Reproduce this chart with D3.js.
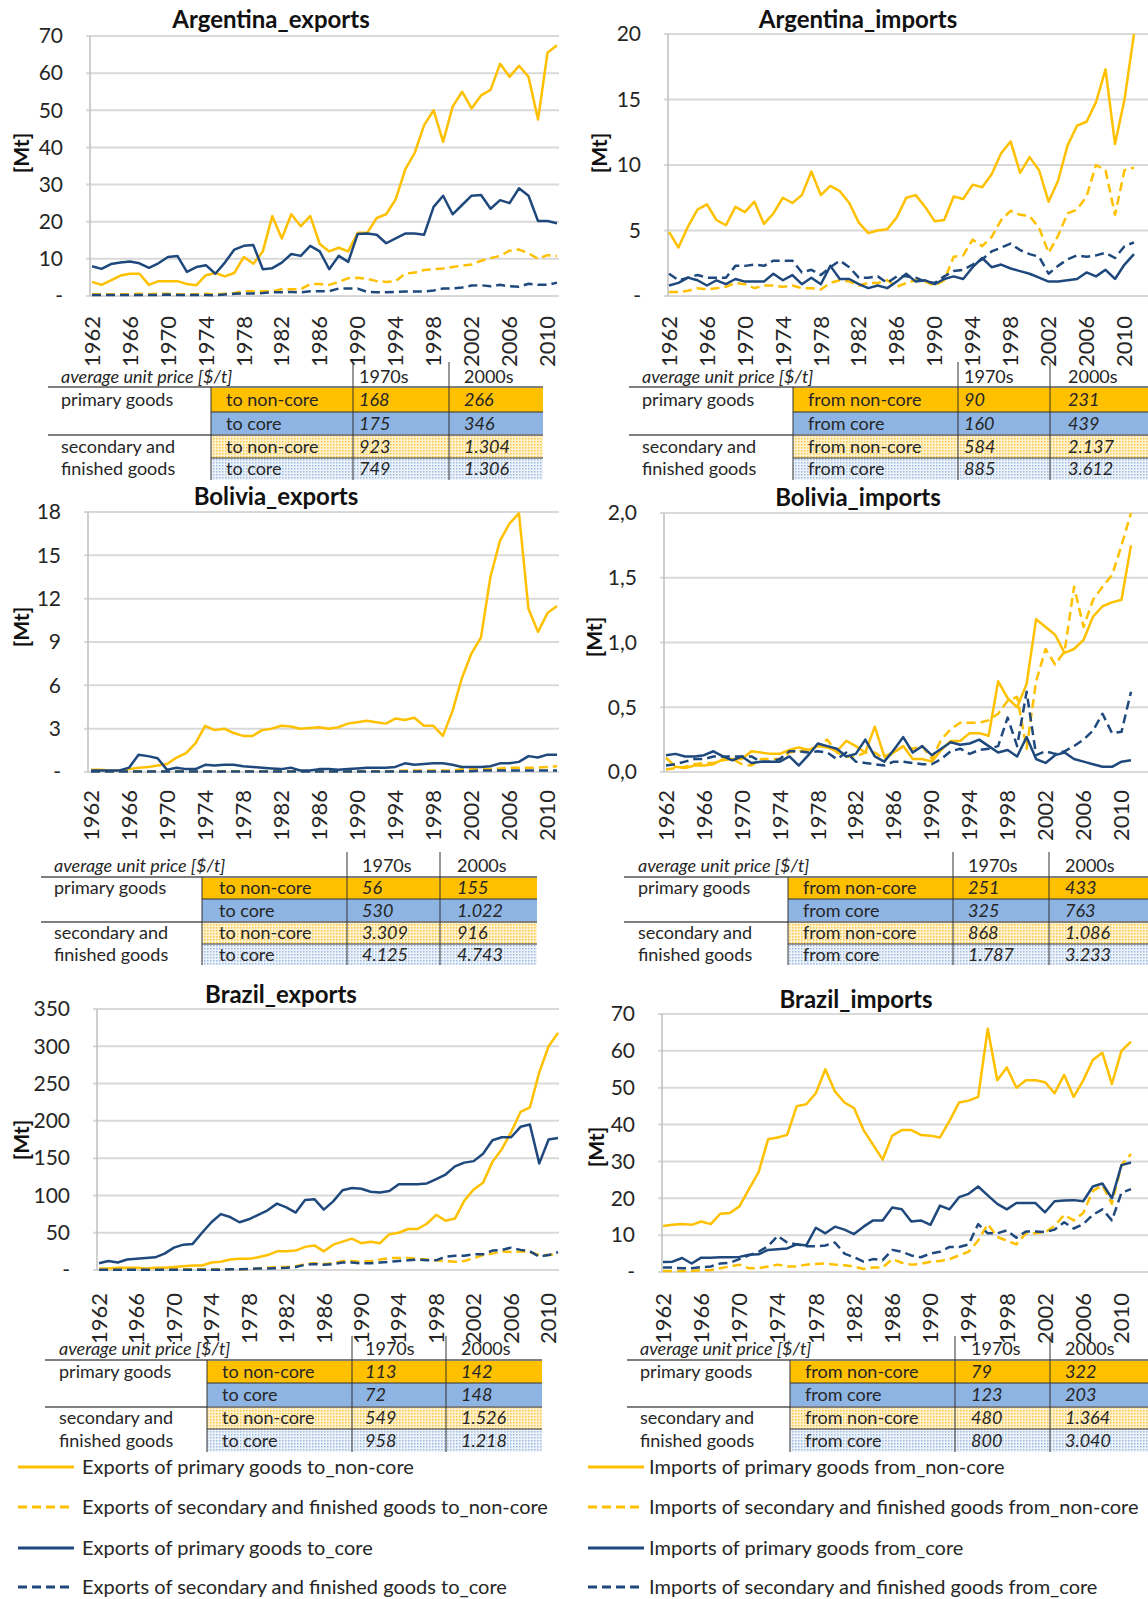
<!DOCTYPE html>
<html>
<head>
<meta charset="utf-8">
<script src="https://cdn.jsdelivr.net/npm/d3@7"></script>
<style>
    body { margin: 0; background: #fff; }
    svg { display: block; font-family: Lato, "Liberation Sans", sans-serif; }
</style>
</head>
<body>
<svg id="svg" width="1148" height="1599"></svg>
<script>

var years = [1962, 1963, 1964, 1965, 1966, 1967, 1968, 1969, 1970, 1971,
    1972, 1973, 1974, 1975, 1976, 1977, 1978, 1979, 1980, 1981,
    1982, 1983, 1984, 1985, 1986, 1987, 1988, 1989, 1990, 1991,
    1992, 1993, 1994, 1995, 1996, 1997, 1998, 1999, 2000, 2001,
    2002, 2003, 2004, 2005, 2006, 2007, 2008, 2009, 2010, 2011];

// Argentina exports [Mt]
var argExpPrimNonCore = [3.8, 3.0, 4.2, 5.5, 6.0, 6.0, 3.0, 4.0, 4.0, 4.0, 3.2, 2.9, 5.6, 6.2, 5.3, 6.2, 10.5, 8.7, 12.0, 21.5, 15.5, 22.0, 18.8, 21.5, 14.0, 12.0, 13.0, 12.0, 17.0, 17.0, 21.0, 22.0, 26.0, 34.0, 38.5, 46.0, 50.0, 41.5, 51.0, 55.0, 50.5, 54.0, 55.5, 62.5, 59.0, 62.0, 59.0, 47.5, 65.5, 67.5];
var argExpSecNonCore = [0.5, 0.5, 0.5, 0.5, 0.5, 0.6, 0.5, 0.6, 0.6, 0.5, 0.5, 0.5, 0.6, 0.4, 0.6, 0.8, 1.3, 1.3, 1.3, 1.3, 1.8, 1.8, 1.8, 3.2, 3.2, 3.0, 3.8, 4.8, 4.9, 4.6, 4.0, 3.8, 4.0, 6.0, 6.3, 7.0, 7.2, 7.4, 7.8, 8.2, 8.5, 9.5, 10.2, 10.8, 12.2, 12.5, 11.5, 10.0, 11.0, 10.8];
var argExpPrimCore = [8.0, 7.3, 8.6, 9.0, 9.3, 8.8, 7.6, 8.8, 10.5, 10.8, 6.5, 7.8, 8.3, 6.0, 9.0, 12.5, 13.5, 13.7, 7.2, 7.5, 9.0, 11.3, 10.8, 13.5, 12.0, 7.2, 10.8, 9.2, 16.7, 16.8, 16.5, 14.2, 15.5, 16.8, 16.8, 16.5, 24.0, 27.0, 22.0, 24.5, 27.0, 27.2, 23.5, 25.8, 25.0, 29.0, 27.0, 20.2, 20.2, 19.6];
var argExpSecCore = [0.3, 0.3, 0.3, 0.3, 0.3, 0.3, 0.3, 0.3, 0.4, 0.3, 0.3, 0.3, 0.3, 0.2, 0.4, 0.6, 0.7, 0.7, 0.8, 1.0, 1.0, 1.1, 1.0, 1.3, 1.3, 1.3, 2.0, 2.0, 2.0, 1.1, 1.0, 1.0, 1.1, 1.2, 1.2, 1.2, 1.5, 2.0, 2.0, 2.3, 2.8, 2.9, 2.6, 3.0, 2.6, 2.5, 3.3, 3.0, 3.0, 3.6];

// Argentina imports [Mt]
var argImpPrimNonCore = [4.9, 3.7, 5.3, 6.6, 7.0, 5.8, 5.4, 6.8, 6.4, 7.2, 5.5, 6.3, 7.5, 7.1, 7.7, 9.5, 7.7, 8.4, 8.0, 7.1, 5.6, 4.8, 5.0, 5.1, 6.0, 7.5, 7.7, 6.8, 5.7, 5.8, 7.6, 7.4, 8.5, 8.3, 9.3, 10.9, 11.8, 9.4, 10.6, 9.6, 7.2, 8.8, 11.5, 13.0, 13.3, 14.8, 17.3, 11.6, 15.0, 20.0];
var argImpSecNonCore = [0.3, 0.3, 0.4, 0.6, 0.5, 0.6, 0.7, 1.0, 0.9, 0.6, 0.8, 0.8, 0.7, 0.8, 0.6, 0.6, 0.5, 1.0, 1.2, 1.1, 0.8, 1.0, 1.0, 1.2, 0.7, 1.0, 1.2, 1.1, 0.8, 1.2, 3.0, 3.1, 4.3, 3.8, 4.5, 5.8, 6.5, 6.2, 6.1, 5.2, 3.3, 4.6, 6.3, 6.6, 7.6, 10.0, 9.6, 6.2, 9.6, 9.8];
var argImpPrimCore = [0.8, 1.0, 1.4, 1.2, 0.8, 1.2, 0.9, 1.3, 1.1, 1.1, 1.1, 1.7, 1.2, 1.6, 0.9, 1.4, 0.9, 2.3, 1.3, 1.3, 0.9, 0.6, 0.8, 0.6, 1.1, 1.7, 1.1, 1.2, 0.9, 1.3, 1.5, 1.3, 2.2, 2.9, 2.2, 2.4, 2.1, 1.9, 1.7, 1.4, 1.1, 1.1, 1.2, 1.3, 1.8, 1.5, 2.0, 1.3, 2.4, 3.2];
var argImpSecCore = [1.7, 1.2, 1.4, 1.6, 1.4, 1.4, 1.4, 2.3, 2.3, 2.4, 2.3, 2.7, 2.7, 2.7, 1.8, 2.0, 1.6, 2.2, 2.7, 2.2, 1.4, 1.4, 1.5, 1.0, 1.5, 1.5, 1.4, 1.1, 1.0, 1.5, 1.9, 2.0, 2.4, 2.8, 3.4, 3.7, 4.0, 3.5, 3.2, 3.0, 1.7, 2.3, 2.8, 3.1, 3.0, 3.1, 3.3, 2.9, 3.8, 4.1];

// Bolivia exports [Mt]
var bolExpPrimNonCore = [0.15, 0.15, 0.1, 0.1, 0.2, 0.3, 0.35, 0.45, 0.55, 1.0, 1.3, 2.0, 3.2, 2.9, 3.0, 2.7, 2.5, 2.5, 2.9, 3.0, 3.2, 3.15, 3.0, 3.05, 3.1, 3.0, 3.1, 3.35, 3.45, 3.55, 3.45, 3.35, 3.7, 3.6, 3.75, 3.2, 3.2, 2.5, 4.2, 6.5, 8.2, 9.3, 13.5, 16.0, 17.2, 17.9, 11.3, 9.7, 11.0, 11.5];
var bolExpSecNonCore = [0.05, 0.05, 0.05, 0.05, 0.05, 0.05, 0.05, 0.05, 0.05, 0.05, 0.05, 0.05, 0.05, 0.05, 0.05, 0.05, 0.05, 0.05, 0.05, 0.05, 0.05, 0.05, 0.05, 0.05, 0.05, 0.05, 0.05, 0.05, 0.05, 0.05, 0.05, 0.05, 0.05, 0.1, 0.1, 0.1, 0.1, 0.1, 0.1, 0.2, 0.2, 0.2, 0.2, 0.25, 0.3, 0.3, 0.3, 0.3, 0.35, 0.4];
var bolExpPrimCore = [0.1, 0.1, 0.1, 0.1, 0.3, 1.2, 1.1, 0.95, 0.15, 0.3, 0.2, 0.2, 0.5, 0.45, 0.5, 0.5, 0.4, 0.35, 0.3, 0.25, 0.2, 0.3, 0.1, 0.1, 0.2, 0.2, 0.15, 0.2, 0.25, 0.3, 0.3, 0.3, 0.35, 0.6, 0.5, 0.55, 0.6, 0.6, 0.5, 0.35, 0.35, 0.35, 0.4, 0.6, 0.6, 0.7, 1.1, 1.0, 1.2, 1.2];
var bolExpSecCore = [0.03, 0.03, 0.03, 0.03, 0.03, 0.03, 0.03, 0.03, 0.03, 0.03, 0.03, 0.03, 0.03, 0.03, 0.03, 0.03, 0.03, 0.03, 0.03, 0.03, 0.03, 0.03, 0.03, 0.03, 0.03, 0.03, 0.03, 0.03, 0.03, 0.03, 0.03, 0.03, 0.03, 0.03, 0.03, 0.03, 0.03, 0.03, 0.03, 0.05, 0.05, 0.1, 0.1, 0.1, 0.1, 0.1, 0.1, 0.1, 0.1, 0.1];

// Bolivia imports [Mt]
var bolImpPrimNonCore = [0.11, 0.04, 0.03, 0.05, 0.05, 0.06, 0.1, 0.1, 0.1, 0.16, 0.15, 0.14, 0.14, 0.17, 0.19, 0.17, 0.2, 0.19, 0.16, 0.24, 0.2, 0.15, 0.35, 0.12, 0.15, 0.2, 0.1, 0.1, 0.08, 0.17, 0.24, 0.24, 0.3, 0.3, 0.28, 0.7, 0.57, 0.5, 0.68, 1.18, 1.12, 1.06, 0.92, 0.95, 1.02, 1.2, 1.28, 1.31, 1.33, 1.75];
var bolImpSecNonCore = [0.02, 0.03, 0.04, 0.06, 0.07, 0.07, 0.09, 0.1, 0.06, 0.05, 0.1, 0.1, 0.1, 0.15, 0.16, 0.17, 0.2, 0.25, 0.15, 0.12, 0.12, 0.15, 0.15, 0.1, 0.15, 0.2, 0.18, 0.2, 0.1, 0.25, 0.33, 0.38, 0.38, 0.38, 0.4, 0.45, 0.55, 0.58, 0.18, 0.7, 0.95, 0.83, 0.93, 1.43, 1.12, 1.33, 1.43, 1.52, 1.75, 2.0];
var bolImpPrimCore = [0.13, 0.14, 0.12, 0.12, 0.13, 0.16, 0.12, 0.09, 0.12, 0.07, 0.08, 0.08, 0.08, 0.12, 0.05, 0.13, 0.22, 0.2, 0.18, 0.12, 0.14, 0.25, 0.12, 0.08, 0.17, 0.27, 0.15, 0.2, 0.13, 0.18, 0.23, 0.21, 0.22, 0.25, 0.2, 0.15, 0.17, 0.12, 0.27, 0.1, 0.07, 0.13, 0.15, 0.1, 0.08, 0.06, 0.04, 0.04, 0.08, 0.09];
var bolImpSecCore = [0.05, 0.06, 0.08, 0.1, 0.1, 0.12, 0.12, 0.12, 0.12, 0.12, 0.08, 0.08, 0.1, 0.16, 0.16, 0.15, 0.16, 0.15, 0.1, 0.15, 0.08, 0.07, 0.06, 0.05, 0.08, 0.08, 0.07, 0.06, 0.06, 0.1, 0.16, 0.18, 0.14, 0.17, 0.18, 0.2, 0.42, 0.2, 0.62, 0.13, 0.16, 0.14, 0.16, 0.2, 0.25, 0.32, 0.45, 0.3, 0.31, 0.62];

// Brazil exports [Mt]
var braExpPrimNonCore = [2, 2, 3, 3, 3, 2, 3, 3, 4, 5, 6, 6, 10, 11, 14, 15, 15, 17, 20, 25, 25, 26, 31, 33, 25, 34, 38, 42, 36, 38, 36, 48, 50, 55, 55, 62, 74, 66, 69, 93, 108, 117, 145, 162, 185, 212, 218, 265, 300, 318];
var braExpSecNonCore = [1, 1, 1, 1, 1, 1, 1, 1, 1, 1, 1, 1, 1, 1, 1, 1, 1, 2, 3, 4, 4, 5, 8, 9, 8, 9, 12, 12, 11, 12, 14, 16, 16, 16, 15, 14, 13, 12, 11, 12, 16, 20, 22, 25, 24, 25, 24, 20, 20, 22];
var braExpPrimCore = [9, 12, 10, 14, 15, 16, 17, 22, 30, 34, 35, 50, 64, 75, 71, 64, 68, 74, 80, 89, 84, 77, 94, 95, 81, 92, 107, 110, 109, 105, 104, 106, 115, 115, 115, 116, 122, 128, 139, 144, 146, 156, 174, 178, 178, 192, 195, 143, 175, 177];
var braExpSecCore = [0.5, 0.5, 0.5, 0.5, 0.5, 0.5, 0.5, 0.5, 0.5, 0.5, 0.5, 0.5, 0.5, 0.5, 1, 1, 1.5, 2, 2, 2.5, 3, 4, 7, 8, 7, 8, 10, 10, 9, 9, 10, 11, 12, 13, 14, 13, 13, 18, 19, 19, 21, 21, 26, 27, 30, 27, 25, 18, 20, 24];

// Brazil imports [Mt]
var braImpPrimNonCore = [12.5, 12.8, 13.0, 12.8, 13.7, 13.0, 15.8, 16.0, 17.8, 22.5, 27, 36, 36.5, 37.2, 45, 45.5, 48.5, 55, 49, 46, 44.5, 38.5, 34.5, 30.5, 37, 38.5, 38.5, 37.2, 37, 36.5, 41, 46, 46.5, 47.5, 66, 52, 55.5, 50, 52, 52, 51.5, 48.5, 53.5, 47.5, 52, 57.5, 59.5, 51, 60, 62.5];
var braImpSecNonCore = [0.3, 0.3, 0.3, 0.3, 0.5, 0.5, 1.0, 1.5, 2.0, 1.0, 1.0, 1.5, 2.0, 1.5, 1.5, 2.0, 2.2, 2.3, 2.0, 1.8, 1.5, 0.8, 1.2, 1.2, 3.5, 2.5, 2.0, 2.2, 2.8, 3.0, 3.5, 4.5, 5.5, 8.5, 13.0, 9.5, 8.5, 7.5, 10.5, 10.5, 10.8, 12.5, 15.5, 14.0, 16.0, 22.0, 23.5, 18.5, 29.0, 32.0];
var braImpPrimCore = [2.7, 2.8, 3.8, 2.3, 3.9, 3.9, 4.0, 4.0, 4.1, 4.7, 4.8, 6.0, 6.2, 6.4, 7.5, 7.2, 12.0, 10.5, 12.3, 11.5, 10.3, 12.3, 14.0, 14.0, 17.5, 17.0, 13.7, 14.0, 12.8, 18.0, 17.0, 20.3, 21.2, 23.2, 20.8, 18.5, 17.0, 18.7, 18.7, 18.7, 16.2, 19.2, 19.4, 19.5, 19.2, 23.2, 24.0, 20.0, 29.0, 29.7];
var braImpSecCore = [1.2, 1.2, 1.0, 1.0, 1.3, 1.5, 2.3, 2.5, 3.5, 4.5, 5.5, 7.0, 9.8, 8.0, 7.5, 7.0, 7.0, 7.2, 8.0, 5.0, 4.0, 2.8, 3.5, 3.2, 6.0, 5.5, 4.5, 4.0, 5.0, 5.5, 6.8, 6.8, 7.5, 13.0, 10.5, 10.5, 11.3, 9.3, 11.0, 11.0, 10.8, 11.5, 13.5, 11.8, 13.0, 15.5, 17.0, 14.0, 21.5, 22.5];

// y axis ticks
var ticksArgExp = [0, 10, 20, 30, 40, 50, 60, 70];
var ticksArgImp = [0, 5, 10, 15, 20];
var ticksBolExp = [0, 3, 6, 9, 12, 15, 18];
var ticksBolImp = [0, 0.5, 1.0, 1.5, 2.0];
var ticksBraExp = [0, 50, 100, 150, 200, 250, 300, 350];
var ticksBraImp = [0, 10, 20, 30, 40, 50, 60, 70];

// average unit price tables [$/t]: 1970s, 2000s
var expRowLabels = ['to non-core', 'to core', 'to non-core', 'to core'];
var impRowLabels = ['from non-core', 'from core', 'from non-core', 'from core'];
var pricesArgExp = [['168', '266'], ['175', '346'], ['923', '1.304'], ['749', '1.306']];
var pricesArgImp = [['90', '231'], ['160', '439'], ['584', '2.137'], ['885', '3.612']];
var pricesBolExp = [['56', '155'], ['530', '1.022'], ['3.309', '916'], ['4.125', '4.743']];
var pricesBolImp = [['251', '433'], ['325', '763'], ['868', '1.086'], ['1.787', '3.233']];
var pricesBraExp = [['113', '142'], ['72', '148'], ['549', '1.526'], ['958', '1.218']];
var pricesBraImp = [['79', '322'], ['123', '203'], ['480', '1.364'], ['800', '3.040']];

var legendExports = ['Exports of primary goods to_non-core', 'Exports of secondary and finished goods to_non-core',
    'Exports of primary goods to_core', 'Exports of secondary and finished goods to_core'];
var legendImports = ['Imports of primary goods from_non-core', 'Imports of secondary and finished goods from_non-core',
    'Imports of primary goods from_core', 'Imports of secondary and finished goods from_core'];

var yellow = '#FFC000',
    navy = '#1F497D',
    gridColor = '#D9D9D9',
    textColor = '#262626',
    seriesStyle = [
        {color: yellow, dash: null},
        {color: yellow, dash: '9,5'},
        {color: navy, dash: null},
        {color: navy, dash: '9,5'}
    ];

var panels = [
    {title: 'Argentina_exports', series: [argExpPrimNonCore, argExpSecNonCore, argExpPrimCore, argExpSecCore],
        ticks: ticksArgExp, rows: expRowLabels, prices: pricesArgExp,
        axisX: 90, x0: 92, x1: 557, right: 559, top: 36, zero: 296, titleX: 271, titleY: 28, mtX: 22, mtY: 153, labTop: 316,
        tab: {headY: 383, rows: [387, 412, 435, 458, 480], lineX: 48, textX: 61, colorX: 211, col1: 353, col2: 449, right: 543, labX: 226, v1: 359, v2: 464, top: 362}},
    {title: 'Argentina_imports', series: [argImpPrimNonCore, argImpSecNonCore, argImpPrimCore, argImpSecCore],
        ticks: ticksArgImp, rows: impRowLabels, prices: pricesArgImp,
        axisX: 668, x0: 669, x1: 1134, right: 1148, top: 34, zero: 296, titleX: 858, titleY: 28, mtX: 600, mtY: 153, labTop: 316,
        tab: {headY: 383, rows: [387, 412, 435, 458, 480], lineX: 629, textX: 642, colorX: 793, col1: 958, col2: 1050, right: 1148, labX: 808, v1: 964, v2: 1068, top: 362}},
    {title: 'Bolivia_exports', series: [bolExpPrimNonCore, bolExpSecNonCore, bolExpPrimCore, bolExpSecCore],
        ticks: ticksBolExp, rows: expRowLabels, prices: pricesBolExp,
        axisX: 88, x0: 91, x1: 557, right: 559, top: 512, zero: 772, titleX: 276, titleY: 505, mtX: 22, mtY: 627, labTop: 790,
        tab: {headY: 872, rows: [877, 899, 922, 944, 965], lineX: 41, textX: 54, colorX: 202, col1: 347, col2: 440, right: 537, labX: 219, v1: 362, v2: 457, top: 852}},
    {title: 'Bolivia_imports', series: [bolImpPrimNonCore, bolImpSecNonCore, bolImpPrimCore, bolImpSecCore],
        ticks: ticksBolImp, rows: impRowLabels, prices: pricesBolImp, comma: true,
        axisX: 664, x0: 666, x1: 1131, right: 1148, top: 513, zero: 772, titleX: 858, titleY: 506, mtX: 595, mtY: 637, labTop: 790,
        tab: {headY: 872, rows: [877, 899, 922, 944, 965], lineX: 624, textX: 638, colorX: 788, col1: 953, col2: 1049, right: 1148, labX: 803, v1: 968, v2: 1065, top: 852}},
    {title: 'Brazil_exports', series: [braExpPrimNonCore, braExpSecNonCore, braExpPrimCore, braExpSecCore],
        ticks: ticksBraExp, rows: expRowLabels, prices: pricesBraExp,
        axisX: 97, x0: 99, x1: 558, right: 559, top: 1009, zero: 1270, titleX: 281, titleY: 1003, mtX: 22, mtY: 1140, labTop: 1293,
        tab: {headY: 1355, rows: [1360, 1383, 1407, 1429, 1452], lineX: 45, textX: 59, colorX: 207, col1: 352, col2: 446, right: 542, labX: 222, v1: 365, v2: 461, top: 1336}},
    {title: 'Brazil_imports', series: [braImpPrimNonCore, braImpSecNonCore, braImpPrimCore, braImpSecCore],
        ticks: ticksBraImp, rows: impRowLabels, prices: pricesBraImp,
        axisX: 662, x0: 663, x1: 1131, right: 1148, top: 1014, zero: 1272, titleX: 856, titleY: 1008, mtX: 597, mtY: 1147, labTop: 1293,
        tab: {headY: 1355, rows: [1360, 1383, 1407, 1429, 1452], lineX: 627, textX: 640, colorX: 790, col1: 955, col2: 1050, right: 1148, labX: 805, v1: 971, v2: 1065, top: 1336}}
];

var $svg = d3.select('#svg');

// dotted fills for the secondary goods rows
var $defs = $svg.append('defs');
[['dotOrange', '#FFF3CF', '#F7C64A'], ['dotBlue', '#EEF3FA', '#9DBCE3']].forEach(function (p) {
    var $p = $defs.append('pattern')
        .attr('id', p[0])
        .attr('width', 3)
        .attr('height', 3)
        .attr('patternUnits', 'userSpaceOnUse');
    $p.append('rect').attr('width', 3).attr('height', 3).attr('fill', p[1]);
    $p.append('rect').attr('width', 1.5).attr('height', 1.5).attr('fill', p[2]);
});

panels.forEach(function (panel) {
    drawChart(panel);
    drawTable(panel);
});

drawLegend(legendExports, 18, 74, 82);
drawLegend(legendImports, 588, 644, 649);

function drawChart(p) {
    var $g = $svg.append('g').classed('chart', true);

    var x = d3.scalePoint()
        .domain(years)
        .range([p.x0, p.x1]);

    var y = d3.scaleLinear()
        .domain([0, d3.max(p.ticks)])
        .range([p.zero, p.top]);

    var fmt = p.comma
        ? function (d) { return d3.format('.1f')(d).replace('.', ','); }
        : function (d) { return d === 0 ? '-' : d; };

    // gridlines
    $g.append('g')
        .selectAll('line')
        .data(p.ticks)
        .join('line')
        .attr('x1', p.axisX - 4)
        .attr('x2', p.right)
        .attr('y1', function (d) { return y(d); })
        .attr('y2', function (d) { return y(d); })
        .attr('stroke', gridColor)
        .attr('stroke-width', 2);

    $g.append('line')
        .attr('x1', p.axisX)
        .attr('x2', p.axisX)
        .attr('y1', p.top)
        .attr('y2', p.zero)
        .attr('stroke', '#BFBFBF')
        .attr('stroke-width', 1.5);

    // y tick labels
    $g.append('g')
        .selectAll('text')
        .data(p.ticks)
        .join('text')
        .attr('x', p.axisX - 27)
        .attr('y', function (d) { return y(d); })
        .attr('dy', '0.35em')
        .attr('text-anchor', 'end')
        .attr('font-size', 21)
        .attr('fill', textColor)
        .text(fmt);

    // x tick labels, every 4th year
    $g.append('g')
        .selectAll('text')
        .data(years.filter(function (d) { return (d - years[0]) % 4 === 0; }))
        .join('text')
        .attr('transform', function (d) { return 'translate(' + x(d) + ',' + p.labTop + ') rotate(-90)'; })
        .attr('dy', '0.35em')
        .attr('text-anchor', 'end')
        .attr('font-size', 22)
        .attr('fill', textColor)
        .text(function (d) { return d; });

    var line = d3.line()
        .x(function (d, i) { return x(years[i]); })
        .y(function (d) { return y(d); });

    p.series.forEach(function (values, i) {
        $g.append('path')
            .datum(values)
            .attr('d', line)
            .attr('fill', 'none')
            .attr('stroke', seriesStyle[i].color)
            .attr('stroke-width', 2.5)
            .attr('stroke-dasharray', seriesStyle[i].dash)
            .attr('stroke-linejoin', 'round');
    });

    $g.append('text')
        .attr('x', p.titleX)
        .attr('y', p.titleY)
        .attr('text-anchor', 'middle')
        .attr('font-size', 24)
        .attr('font-weight', 'bold')
        .attr('fill', '#111')
        .text(p.title);

    $g.append('text')
        .attr('transform', 'translate(' + p.mtX + ',' + p.mtY + ') rotate(-90)')
        .attr('dy', '0.35em')
        .attr('text-anchor', 'middle')
        .attr('font-size', 21)
        .attr('font-weight', 'bold')
        .attr('fill', '#111')
        .text('[Mt]');
}

function drawTable(p) {
    var t = p.tab,
        fills = [yellow, '#8DB4E2', 'url(#dotOrange)', 'url(#dotBlue)'],
        $t = $svg.append('g').classed('table', true).attr('font-size', 18).attr('fill', textColor);

    p.rows.forEach(function (label, i) {
        var y0 = t.rows[i], y1 = t.rows[i + 1], mid = (y0 + y1) / 2;

        $t.append('rect')
            .attr('x', t.colorX)
            .attr('y', y0)
            .attr('width', t.right - t.colorX)
            .attr('height', y1 - y0)
            .attr('fill', fills[i]);

        $t.append('text')
            .attr('x', t.labX)
            .attr('y', mid)
            .attr('dy', '0.35em')
            .text(label);

        [t.v1, t.v2].forEach(function (vx, j) {
            $t.append('text')
                .attr('x', vx)
                .attr('y', mid)
                .attr('dy', '0.35em')
                .attr('font-style', 'italic')
                .text(p.prices[i][j]);
        });
    });

    // row separators inside coloured block
    [1, 3].forEach(function (i) {
        $t.append('line')
            .attr('x1', t.colorX).attr('x2', t.right)
            .attr('y1', t.rows[i]).attr('y2', t.rows[i])
            .attr('stroke', '#333').attr('stroke-width', 1);
    });

    [t.rows[0], t.rows[2]].forEach(function (ly) {
        $t.append('line')
            .attr('x1', t.lineX).attr('x2', t.right)
            .attr('y1', ly).attr('y2', ly)
            .attr('stroke', '#7F7F7F').attr('stroke-width', 2);
    });

    $t.append('line')
        .attr('x1', t.colorX).attr('x2', t.colorX)
        .attr('y1', t.rows[0]).attr('y2', t.rows[4])
        .attr('stroke', '#333').attr('stroke-width', 1);

    [t.col1, t.col2].forEach(function (cx) {
        $t.append('line')
            .attr('x1', cx).attr('x2', cx)
            .attr('y1', t.top).attr('y2', t.rows[4])
            .attr('stroke', '#333').attr('stroke-width', 1);
    });

    $t.append('text')
        .attr('x', t.textX)
        .attr('y', t.headY)
        .attr('font-style', 'italic')
        .text('average unit price [$/t]');
    $t.append('text').attr('x', t.v1).attr('y', t.headY).text('1970s');
    $t.append('text').attr('x', t.v2).attr('y', t.headY).text('2000s');

    $t.append('text')
        .attr('x', t.textX)
        .attr('y', (t.rows[0] + t.rows[1]) / 2)
        .attr('dy', '0.35em')
        .text('primary goods');
    $t.append('text')
        .attr('x', t.textX)
        .attr('y', (t.rows[2] + t.rows[3]) / 2)
        .attr('dy', '0.35em')
        .text('secondary and');
    $t.append('text')
        .attr('x', t.textX)
        .attr('y', (t.rows[3] + t.rows[4]) / 2)
        .attr('dy', '0.35em')
        .text('finished goods');
}

function drawLegend(labels, lx0, lx1, tx) {
    var rowsY = [1467, 1507, 1548, 1587];
    var $l = $svg.append('g').classed('legend', true);

    labels.forEach(function (label, i) {
        $l.append('line')
            .attr('x1', lx0).attr('x2', lx1)
            .attr('y1', rowsY[i]).attr('y2', rowsY[i])
            .attr('stroke', seriesStyle[i].color)
            .attr('stroke-width', 3)
            .attr('stroke-dasharray', seriesStyle[i].dash);

        $l.append('text')
            .attr('x', tx)
            .attr('y', rowsY[i])
            .attr('dy', '0.35em')
            .attr('font-size', 20)
            .attr('fill', textColor)
            .text(label);
    });
}

</script>
</body>
</html>
